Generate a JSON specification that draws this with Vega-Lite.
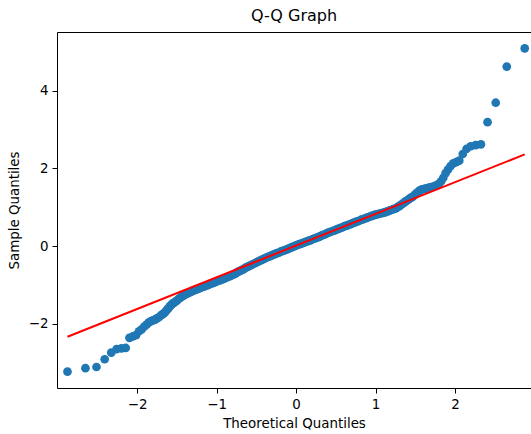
{
  "$schema": "https://vega.github.io/schema/vega-lite/v6.json",
  "autosize": {"type": "none"},
  "padding": {"left": 57, "top": 32, "right": 0, "bottom": 46},
  "width": 474,
  "height": 356,
  "title": {"text": "Q-Q Graph", "fontSize": 16, "fontWeight": "normal", "color": "#000000", "font": "DejaVu Sans", "offset": 8},
  "config": {
    "font": "DejaVu Sans",
    "view": {"stroke": null},
    "axis": {
      "domainColor": "#000000", "domainWidth": 1,
      "tickColor": "#000000", "tickWidth": 1, "tickSize": 5,
      "labelFontSize": 13.4, "labelColor": "#000000", "labelPadding": 4, "labelFont": "DejaVu Sans",
      "titleFontSize": 13.4, "titleFontWeight": "normal", "titleColor": "#000000", "titleFont": "DejaVu Sans",
      "grid": false
    }
  },
  "resolve": {"axis": {"x": "independent"}},
  "layer": [
    {
      "data": {"values": [
        {"theoretical": -2.878, "sample": -3.23},
        {"theoretical": -2.652, "sample": -3.14},
        {"theoretical": -2.513, "sample": -3.11},
        {"theoretical": -2.410, "sample": -2.91},
        {"theoretical": -2.327, "sample": -2.74},
        {"theoretical": -2.260, "sample": -2.65},
        {"theoretical": -2.198, "sample": -2.63},
        {"theoretical": -2.145, "sample": -2.62},
        {"theoretical": -2.098, "sample": -2.36},
        {"theoretical": -2.054, "sample": -2.32},
        {"theoretical": -2.015, "sample": -2.29},
        {"theoretical": -1.978, "sample": -2.19},
        {"theoretical": -1.944, "sample": -2.14},
        {"theoretical": -1.912, "sample": -2.07},
        {"theoretical": -1.882, "sample": -2.02},
        {"theoretical": -1.853, "sample": -1.96},
        {"theoretical": -1.826, "sample": -1.93},
        {"theoretical": -1.800, "sample": -1.91},
        {"theoretical": -1.775, "sample": -1.89},
        {"theoretical": -1.752, "sample": -1.86},
        {"theoretical": -1.728, "sample": -1.83},
        {"theoretical": -1.707, "sample": -1.79},
        {"theoretical": -1.686, "sample": -1.76},
        {"theoretical": -1.665, "sample": -1.73},
        {"theoretical": -1.646, "sample": -1.69},
        {"theoretical": -1.627, "sample": -1.64},
        {"theoretical": -1.608, "sample": -1.60},
        {"theoretical": -1.590, "sample": -1.55},
        {"theoretical": -1.572, "sample": -1.51},
        {"theoretical": -1.556, "sample": -1.48},
        {"theoretical": -1.54, "sample": -1.46},
        {"theoretical": -1.52, "sample": -1.43},
        {"theoretical": -1.50, "sample": -1.40},
        {"theoretical": -1.48, "sample": -1.36},
        {"theoretical": -1.46, "sample": -1.33},
        {"theoretical": -1.44, "sample": -1.30},
        {"theoretical": -1.42, "sample": -1.28},
        {"theoretical": -1.40, "sample": -1.25},
        {"theoretical": -1.38, "sample": -1.23},
        {"theoretical": -1.36, "sample": -1.21},
        {"theoretical": -1.34, "sample": -1.19},
        {"theoretical": -1.32, "sample": -1.17},
        {"theoretical": -1.30, "sample": -1.15},
        {"theoretical": -1.28, "sample": -1.13},
        {"theoretical": -1.26, "sample": -1.12},
        {"theoretical": -1.24, "sample": -1.10},
        {"theoretical": -1.22, "sample": -1.09},
        {"theoretical": -1.20, "sample": -1.07},
        {"theoretical": -1.18, "sample": -1.05},
        {"theoretical": -1.16, "sample": -1.04},
        {"theoretical": -1.14, "sample": -1.02},
        {"theoretical": -1.12, "sample": -1.01},
        {"theoretical": -1.10, "sample": -0.99},
        {"theoretical": -1.08, "sample": -0.97},
        {"theoretical": -1.06, "sample": -0.96},
        {"theoretical": -1.04, "sample": -0.94},
        {"theoretical": -1.02, "sample": -0.93},
        {"theoretical": -1.00, "sample": -0.91},
        {"theoretical": -0.98, "sample": -0.89},
        {"theoretical": -0.96, "sample": -0.88},
        {"theoretical": -0.94, "sample": -0.86},
        {"theoretical": -0.92, "sample": -0.85},
        {"theoretical": -0.90, "sample": -0.83},
        {"theoretical": -0.88, "sample": -0.81},
        {"theoretical": -0.86, "sample": -0.79},
        {"theoretical": -0.84, "sample": -0.78},
        {"theoretical": -0.82, "sample": -0.76},
        {"theoretical": -0.80, "sample": -0.74},
        {"theoretical": -0.78, "sample": -0.72},
        {"theoretical": -0.76, "sample": -0.70},
        {"theoretical": -0.74, "sample": -0.67},
        {"theoretical": -0.72, "sample": -0.65},
        {"theoretical": -0.70, "sample": -0.63},
        {"theoretical": -0.68, "sample": -0.61},
        {"theoretical": -0.66, "sample": -0.59},
        {"theoretical": -0.64, "sample": -0.56},
        {"theoretical": -0.62, "sample": -0.54},
        {"theoretical": -0.60, "sample": -0.52},
        {"theoretical": -0.58, "sample": -0.50},
        {"theoretical": -0.56, "sample": -0.48},
        {"theoretical": -0.54, "sample": -0.46},
        {"theoretical": -0.52, "sample": -0.44},
        {"theoretical": -0.50, "sample": -0.42},
        {"theoretical": -0.48, "sample": -0.40},
        {"theoretical": -0.46, "sample": -0.38},
        {"theoretical": -0.44, "sample": -0.36},
        {"theoretical": -0.42, "sample": -0.34},
        {"theoretical": -0.40, "sample": -0.32},
        {"theoretical": -0.38, "sample": -0.30},
        {"theoretical": -0.36, "sample": -0.28},
        {"theoretical": -0.34, "sample": -0.27},
        {"theoretical": -0.32, "sample": -0.25},
        {"theoretical": -0.30, "sample": -0.23},
        {"theoretical": -0.28, "sample": -0.21},
        {"theoretical": -0.26, "sample": -0.20},
        {"theoretical": -0.24, "sample": -0.18},
        {"theoretical": -0.22, "sample": -0.17},
        {"theoretical": -0.20, "sample": -0.15},
        {"theoretical": -0.18, "sample": -0.13},
        {"theoretical": -0.16, "sample": -0.12},
        {"theoretical": -0.14, "sample": -0.10},
        {"theoretical": -0.12, "sample": -0.09},
        {"theoretical": -0.10, "sample": -0.07},
        {"theoretical": -0.08, "sample": -0.05},
        {"theoretical": -0.06, "sample": -0.03},
        {"theoretical": -0.04, "sample": -0.02},
        {"theoretical": -0.02, "sample": 0.00},
        {"theoretical": 0.00, "sample": 0.02},
        {"theoretical": 0.02, "sample": 0.03},
        {"theoretical": 0.04, "sample": 0.05},
        {"theoretical": 0.06, "sample": 0.06},
        {"theoretical": 0.08, "sample": 0.08},
        {"theoretical": 0.10, "sample": 0.09},
        {"theoretical": 0.12, "sample": 0.11},
        {"theoretical": 0.14, "sample": 0.12},
        {"theoretical": 0.16, "sample": 0.14},
        {"theoretical": 0.18, "sample": 0.15},
        {"theoretical": 0.20, "sample": 0.17},
        {"theoretical": 0.22, "sample": 0.19},
        {"theoretical": 0.24, "sample": 0.20},
        {"theoretical": 0.26, "sample": 0.22},
        {"theoretical": 0.28, "sample": 0.23},
        {"theoretical": 0.30, "sample": 0.25},
        {"theoretical": 0.32, "sample": 0.27},
        {"theoretical": 0.34, "sample": 0.29},
        {"theoretical": 0.36, "sample": 0.30},
        {"theoretical": 0.38, "sample": 0.32},
        {"theoretical": 0.40, "sample": 0.34},
        {"theoretical": 0.42, "sample": 0.36},
        {"theoretical": 0.44, "sample": 0.37},
        {"theoretical": 0.46, "sample": 0.39},
        {"theoretical": 0.48, "sample": 0.40},
        {"theoretical": 0.50, "sample": 0.42},
        {"theoretical": 0.52, "sample": 0.44},
        {"theoretical": 0.54, "sample": 0.45},
        {"theoretical": 0.56, "sample": 0.47},
        {"theoretical": 0.58, "sample": 0.48},
        {"theoretical": 0.60, "sample": 0.50},
        {"theoretical": 0.62, "sample": 0.52},
        {"theoretical": 0.64, "sample": 0.53},
        {"theoretical": 0.66, "sample": 0.55},
        {"theoretical": 0.68, "sample": 0.56},
        {"theoretical": 0.70, "sample": 0.58},
        {"theoretical": 0.72, "sample": 0.60},
        {"theoretical": 0.74, "sample": 0.61},
        {"theoretical": 0.76, "sample": 0.63},
        {"theoretical": 0.78, "sample": 0.64},
        {"theoretical": 0.80, "sample": 0.66},
        {"theoretical": 0.82, "sample": 0.68},
        {"theoretical": 0.84, "sample": 0.69},
        {"theoretical": 0.86, "sample": 0.71},
        {"theoretical": 0.88, "sample": 0.72},
        {"theoretical": 0.90, "sample": 0.74},
        {"theoretical": 0.92, "sample": 0.75},
        {"theoretical": 0.94, "sample": 0.77},
        {"theoretical": 0.96, "sample": 0.78},
        {"theoretical": 0.98, "sample": 0.80},
        {"theoretical": 1.00, "sample": 0.81},
        {"theoretical": 1.02, "sample": 0.82},
        {"theoretical": 1.04, "sample": 0.83},
        {"theoretical": 1.06, "sample": 0.84},
        {"theoretical": 1.08, "sample": 0.85},
        {"theoretical": 1.10, "sample": 0.86},
        {"theoretical": 1.12, "sample": 0.87},
        {"theoretical": 1.14, "sample": 0.89},
        {"theoretical": 1.16, "sample": 0.90},
        {"theoretical": 1.18, "sample": 0.92},
        {"theoretical": 1.20, "sample": 0.93},
        {"theoretical": 1.22, "sample": 0.95},
        {"theoretical": 1.24, "sample": 0.96},
        {"theoretical": 1.26, "sample": 0.98},
        {"theoretical": 1.28, "sample": 1.01},
        {"theoretical": 1.30, "sample": 1.03},
        {"theoretical": 1.32, "sample": 1.06},
        {"theoretical": 1.34, "sample": 1.09},
        {"theoretical": 1.36, "sample": 1.12},
        {"theoretical": 1.38, "sample": 1.15},
        {"theoretical": 1.40, "sample": 1.18},
        {"theoretical": 1.42, "sample": 1.21},
        {"theoretical": 1.44, "sample": 1.24},
        {"theoretical": 1.46, "sample": 1.26},
        {"theoretical": 1.48, "sample": 1.29},
        {"theoretical": 1.50, "sample": 1.33},
        {"theoretical": 1.52, "sample": 1.37},
        {"theoretical": 1.54, "sample": 1.40},
        {"theoretical": 1.556, "sample": 1.43},
        {"theoretical": 1.572, "sample": 1.45},
        {"theoretical": 1.590, "sample": 1.46},
        {"theoretical": 1.608, "sample": 1.47},
        {"theoretical": 1.627, "sample": 1.48},
        {"theoretical": 1.646, "sample": 1.49},
        {"theoretical": 1.665, "sample": 1.50},
        {"theoretical": 1.686, "sample": 1.51},
        {"theoretical": 1.707, "sample": 1.52},
        {"theoretical": 1.728, "sample": 1.53},
        {"theoretical": 1.752, "sample": 1.55},
        {"theoretical": 1.775, "sample": 1.57},
        {"theoretical": 1.800, "sample": 1.61},
        {"theoretical": 1.826, "sample": 1.67},
        {"theoretical": 1.853, "sample": 1.76},
        {"theoretical": 1.882, "sample": 1.88},
        {"theoretical": 1.912, "sample": 1.97},
        {"theoretical": 1.944, "sample": 2.06},
        {"theoretical": 1.978, "sample": 2.13},
        {"theoretical": 2.015, "sample": 2.16},
        {"theoretical": 2.054, "sample": 2.20},
        {"theoretical": 2.098, "sample": 2.37},
        {"theoretical": 2.145, "sample": 2.50},
        {"theoretical": 2.198, "sample": 2.57},
        {"theoretical": 2.260, "sample": 2.60},
        {"theoretical": 2.327, "sample": 2.62},
        {"theoretical": 2.410, "sample": 3.19},
        {"theoretical": 2.513, "sample": 3.69},
        {"theoretical": 2.652, "sample": 4.62},
        {"theoretical": 2.878, "sample": 5.09}
      ]},
      "mark": {"type": "point", "filled": true, "shape": "circle", "size": 76, "opacity": 1, "color": "#1f77b4"},
      "encoding": {
        "x": {"field": "theoretical", "type": "quantitative",
              "scale": {"domain": [-3.01, 2.957], "nice": false, "zero": false},
              "axis": {"orient": "bottom", "values": [-2, -1, 0, 1, 2], "title": "Theoretical Quantiles", "titlePadding": 6,
                       "labelExpr": "replace(datum.label, '-', '\u2212')"}},
        "y": {"field": "sample", "type": "quantitative",
              "scale": {"domain": [-3.65, 5.51], "nice": false, "zero": false},
              "axis": {"values": [-2, 0, 2, 4], "title": "Sample Quantiles", "titlePadding": 7,
                       "labelExpr": "replace(datum.label, '-', '\u2212')"}}
      }
    },
    {
      "data": {"values": [
        {"theoretical": -2.878, "fitted": -2.33},
        {"theoretical": 2.878, "fitted": 2.36}
      ]},
      "mark": {"type": "line", "color": "#ff0000", "strokeWidth": 2},
      "encoding": {
        "x": {"field": "theoretical", "type": "quantitative",
              "axis": {"orient": "top", "labels": false, "ticks": false, "title": null, "domain": true}},
        "y": {"field": "fitted", "type": "quantitative"}
      }
    }
  ]
}
